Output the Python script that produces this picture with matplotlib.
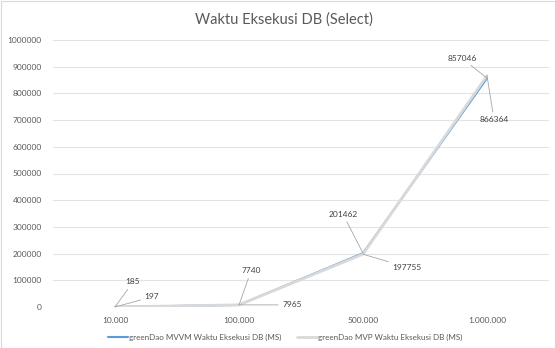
import matplotlib
matplotlib.use("Agg")
import matplotlib.pyplot as plt
from matplotlib.patches import Rectangle

categories = ["10.000", "100.000", "500.000", "1.000.000"]
mvvm = [185, 7740, 201462, 857046]
mvp = [197, 7965, 197755, 866364]
series_names = ["greenDao MVVM Waktu Eksekusi DB (MS)", "greenDao MVP Waktu Eksekusi DB (MS)"]
yticks = [0, 100000, 200000, 300000, 400000, 500000, 600000, 700000, 800000, 900000, 1000000]

plt.rcParams['font.family'] = ['Lato', 'DejaVu Sans']
txt = '#595959'

fig = plt.figure(figsize=(5.55, 3.48), dpi=100)
ax = fig.add_axes([53/555, 1-307/348, (549-53)/555, (307-40)/348])

x = list(range(len(categories)))
ax.plot(x, mvvm, color='#5B9BD5', lw=1.5, label=series_names[0], zorder=3, solid_capstyle='round')
ax.plot(x, mvp, color='#D9D9D9', lw=2.0, label=series_names[1], zorder=4, solid_capstyle='round')

ax.set_xlim(-0.5, len(categories)-0.5)
ax.set_ylim(0, 1000000)
ax.set_yticks(yticks)
ax.set_yticklabels([str(v) for v in yticks])
ax.set_xticks(x)
ax.set_xticklabels(categories)
ax.tick_params(axis='both', length=0, labelsize=6, colors=txt)
ax.tick_params(axis='y', pad=8)
ax.tick_params(axis='x', pad=7)
ax.grid(axis='y', color='#E3E3E3', lw=0.8)
ax.set_axisbelow(True)
for s in ax.spines.values():
    s.set_visible(False)

# data labels (offsets in pixels)
mvvm_off = [(18, 25), (12, 34), (-20, 39), (-25, 20)]
mvp_off = [(37, 10), (53, 0), (44, -13), (7, -44)]
for vals, offs in ((mvvm, mvvm_off), (mvp, mvp_off)):
    for xi, v, (dx, dy) in zip(x, vals, offs):
        ax.annotate(str(v), xy=(xi, v), xytext=(dx, dy), textcoords='offset pixels',
                    ha='center', va='center', fontsize=6, color='#404040',
                    arrowprops=dict(arrowstyle='-', color='#A6A6A6', lw=0.6,
                                    shrinkA=1, shrinkB=0), zorder=6)

fig.text(284/555, 1-20/348, "Waktu Eksekusi DB (Select)", ha='center', va='center',
         fontsize=10.5, color=txt)

fig.legend(loc='center', bbox_to_anchor=(285/555, 1-337/348), ncol=2, frameon=False,
           fontsize=5.8, handlelength=2.5, handletextpad=0.1, columnspacing=2.0,
           labelcolor=txt)

fig.add_artist(Rectangle((0.5/555, 0.5/348), 1-1/555, 1-1/348, transform=fig.transFigure,
                         fill=False, edgecolor='#D9D9D9', lw=0.8))

fig.savefig("out.png", dpi=100)
